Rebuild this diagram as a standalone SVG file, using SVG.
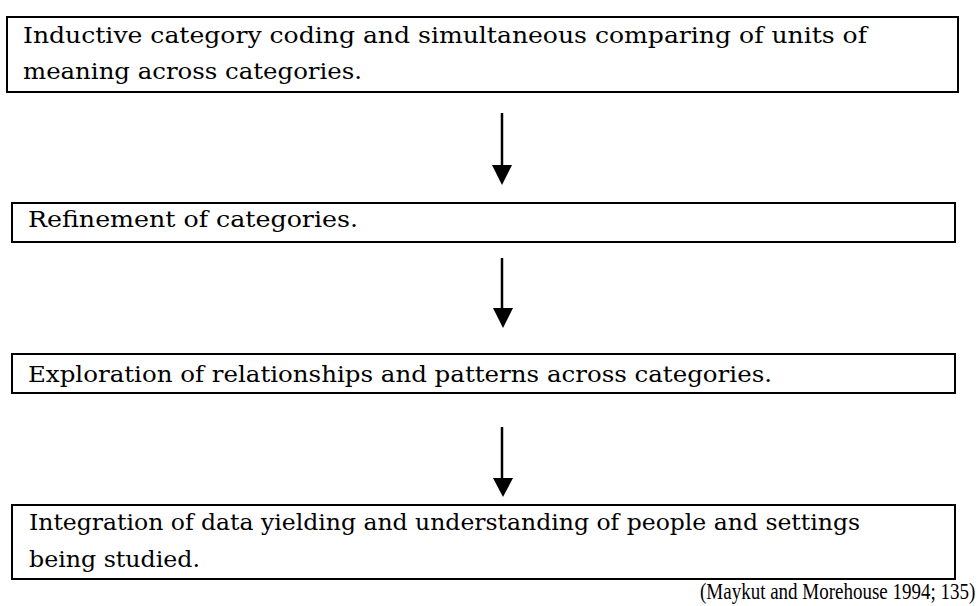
<svg xmlns="http://www.w3.org/2000/svg" width="979" height="606" viewBox="0 0 979 606">
<style>
.box{fill:#fff;stroke:#000;stroke-width:2}
.t{font-family:'DejaVu Serif','Liberation Serif',serif;font-size:22px;fill:#000}
.cite{font-family:'Liberation Serif','Times New Roman',serif;font-size:19px;fill:#000}
.c{stroke:#000;stroke-width:2.5;fill:none}
</style>
<rect width="979" height="606" fill="#fff"/>
<g id="connectors">
<path class="c" d="M502,113 V166"/>
<path d="M492,165 L512,165 L502,185 Z" fill="#000"/>
<path class="c" d="M502,258 V309"/>
<path d="M493,308 L513,308 L503,328 Z" fill="#000"/>
<path class="c" d="M502,427 V479"/>
<path d="M493,478 L513,478 L503,497 Z" fill="#000"/>
</g>
<g id="node1">
<rect class="box" x="7" y="17" width="951" height="75"/>
<text class="t" x="23" y="43" textLength="844" lengthAdjust="spacingAndGlyphs">Inductive category coding and simultaneous comparing of units of</text>
<text class="t" x="23" y="79" textLength="339" lengthAdjust="spacingAndGlyphs">meaning across categories.</text>
</g>
<g id="node2">
<rect class="box" x="12" y="203" width="943" height="39"/>
<text class="t" x="28" y="227" textLength="330" lengthAdjust="spacingAndGlyphs">Refinement of categories.</text>
</g>
<g id="node3">
<rect class="box" x="12" y="354" width="943" height="39"/>
<text class="t" x="28" y="382" textLength="744" lengthAdjust="spacingAndGlyphs">Exploration of relationships and patterns across categories.</text>
</g>
<g id="node4">
<rect class="box" x="12" y="505" width="943" height="74"/>
<text class="t" x="29" y="530" textLength="831" lengthAdjust="spacingAndGlyphs">Integration of data yielding and understanding of people and settings</text>
<text class="t" x="29" y="567" textLength="171" lengthAdjust="spacingAndGlyphs">being studied.</text>
</g>
<g id="citation" transform="translate(700,599) scale(1,1.25)">
<text class="cite" x="0" y="0">(Maykut and Morehouse 1994; 135)</text>
</g>
</svg>
